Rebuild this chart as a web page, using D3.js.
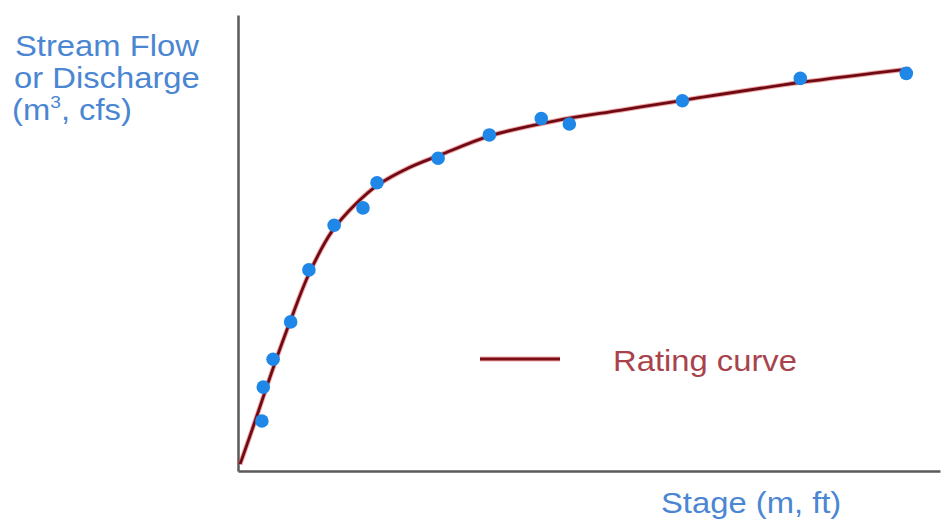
<!DOCTYPE html>
<html>
<head>
<meta charset="utf-8">
<script src="https://cdn.jsdelivr.net/npm/d3@7"></script>
<style>
  html, body { margin: 0; padding: 0; background: #fff; }
  svg { display: block; }
  text { font-family: "Liberation Sans", Arial, sans-serif; }
</style>
</head>
<body>
<svg id="chart" width="947" height="521"></svg>
<script>
// Observed measurements (stage, discharge) in arbitrary units
const obsStage     = [0.34, 0.36, 0.50, 0.75, 1.01, 1.37, 1.78, 1.98, 2.85, 3.58, 4.32, 4.72, 6.33, 8.01, 9.52];
const obsDischarge = [10.96, 18.4, 24.5, 32.7, 44.1, 53.9, 57.7, 63.2, 68.6, 73.7, 77.3, 76.1, 81.2, 86.1, 87.2];

// Fitted rating curve
const curveStage     = [0.03, 0.20, 0.37, 0.54, 0.75, 1.01, 1.34, 1.68, 1.99, 2.42, 2.88, 3.59, 4.52, 5.44, 6.34, 8.01, 9.57];
const curveDischarge = [1.5, 9.0, 16.7, 24.3, 33.1, 43.2, 52.6, 58.6, 62.7, 66.4, 69.3, 73.5, 76.8, 79.1, 81.3, 85.2, 88.2];

const yLabelLines = ["Stream Flow", "or Discharge"];
const xLabel = "Stage (m, ft)";
const legendLabel = "Rating curve";

const svg = d3.select("#chart");
const x = d3.scaleLinear().domain([0, 10]).range([238, 940]);
const y = d3.scaleLinear().domain([0, 100]).range([471, 15]);

// Axes (no ticks)
const xAxis = d3.axisBottom(x).tickValues([]).tickSizeOuter(0);
const yAxis = d3.axisLeft(y).tickValues([]).tickSizeOuter(0);
svg.append("g").attr("transform", `translate(0,${y(0)})`).call(xAxis)
  .select(".domain").attr("stroke", "#5a5a5a").attr("stroke-width", 2.5);
svg.append("g").attr("transform", `translate(${x(0)},0)`).call(yAxis)
  .select(".domain").attr("stroke", "#5a5a5a").attr("stroke-width", 2.5);

// Rating curve
const curvePts = curveStage.map((s, i) => [s, curveDischarge[i]]);
const line = d3.line().x(d => x(d[0])).y(d => y(d[1])).curve(d3.curveCatmullRom.alpha(0.5));
svg.append("path").datum(curvePts).attr("d", line)
  .attr("fill", "none").attr("stroke", "#e03030").attr("stroke-opacity", 0.45).attr("stroke-width", 4.8);
svg.append("path").datum(curvePts).attr("d", line)
  .attr("fill", "none").attr("stroke", "#6e0a14").attr("stroke-width", 2.8);

// Observed points
const obsPts = obsStage.map((s, i) => [s, obsDischarge[i]]);
svg.append("g").selectAll("circle").data(obsPts).join("circle")
  .attr("cx", d => x(d[0])).attr("cy", d => y(d[1])).attr("r", 6.8)
  .attr("fill", "#1f87e8");

// Y label (top-left)
const sx = 1.13;
const yl = svg.append("g").attr("fill", "#4a86d2").attr("font-size", 29);
yl.append("text").attr("transform", `translate(15,55.5) scale(${sx},1)`).text(yLabelLines[0]);
yl.append("text").attr("transform", `translate(14,88) scale(${sx},1)`).text(yLabelLines[1]);
const t3 = yl.append("text").attr("transform", `translate(12,120) scale(${sx},1)`);
t3.append("tspan").text("(m");
t3.append("tspan").attr("font-size", 17).attr("dy", -12).text("3");
t3.append("tspan").attr("dy", 12).text(", cfs)");

// X label
svg.append("text").attr("transform", `translate(661,513) scale(${sx},1)`)
  .attr("fill", "#4a86d2").attr("font-size", 29).text(xLabel);

// Legend
svg.append("line").attr("x1", 480).attr("x2", 560).attr("y1", 359).attr("y2", 359)
  .attr("stroke", "#e03030").attr("stroke-opacity", 0.4).attr("stroke-width", 4.8);
svg.append("line").attr("x1", 480).attr("x2", 560).attr("y1", 359).attr("y2", 359)
  .attr("stroke", "#7a0d18").attr("stroke-width", 2.8);
svg.append("text").attr("transform", `translate(613,371) scale(${sx},1)`)
  .attr("fill", "#a8434c").attr("font-size", 29).text(legendLabel);
</script>
</body>
</html>
